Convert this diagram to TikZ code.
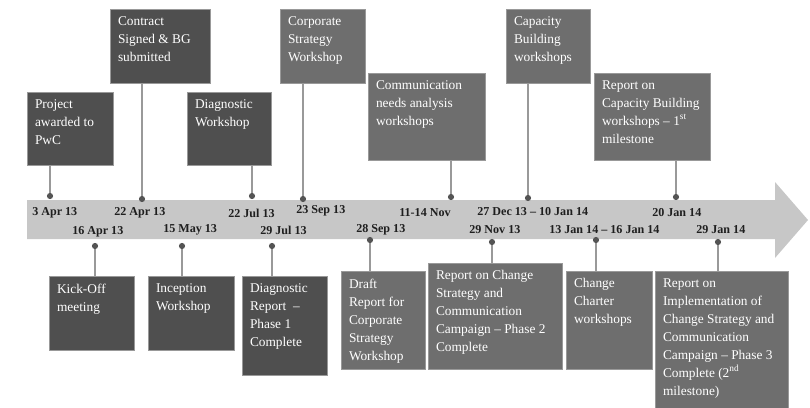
\documentclass[tikz,border=0pt]{standalone}
\usepackage{fontspec}
\setmainfont{Liberation Serif}
\usetikzlibrary{calc,positioning,fit}

\tikzset{
	darkbox/.style={fill=black!69,draw=black!40,line width=0.4pt,inner sep=0pt},
	lightbox/.style={fill=black!57,draw=black!40,line width=0.4pt,inner sep=0pt},
	boxtext/.style={text=white,align=left,anchor=north west,inner xsep=0.2cm,inner ysep=0.19cm,font=\fontsize{9.5}{12.8}\selectfont},
	datelbl/.style={anchor=west,inner sep=0pt,text=black!88,font=\fontsize{8.6}{10}\selectfont\bfseries},
	stemline/.style={draw=black!40,line width=1.3pt},
}

\begin{document}
\begin{tikzpicture}[x=0.025cm,y=-0.025cm]
	\useasboundingbox (0,0) rectangle (810,408);

	\coordinate (d1) at (50,196);
	\coordinate (d2) at (142,199);
	\coordinate (d3) at (252,196);
	\coordinate (d4) at (303,199);
	\coordinate (d5) at (451,197);
	\coordinate (d6) at (528,198);
	\coordinate (d7) at (676,197);
	\coordinate (e1) at (95,246);
	\coordinate (e2) at (182,246);
	\coordinate (e3) at (272,246);
	\coordinate (e4) at (370,240);
	\coordinate (e5) at (492,242);
	\coordinate (e6) at (596,240);
	\coordinate (e7) at (718,242);

	\fill [black!22] (27,200) -- (775,200) -- (775,182) -- (808,220) -- (775,258) -- (775,239) -- (27,239) -- cycle;

	\node (T1) [darkbox,fit={(27,92) (113,165)}] {};
	\node (T2) [darkbox,fit={(110,9) (210,83)}] {};
	\node (T3) [darkbox,fit={(187,92) (271,165)}] {};
	\node (T4) [lightbox,fit={(280,9) (365,83)}] {};
	\node (T5) [lightbox,fit={(368,73) (485,160)}] {};
	\node (T6) [lightbox,fit={(506,9) (590,83)}] {};
	\node (T7) [lightbox,fit={(594,73) (710,160)}] {};
	\node (B1) [darkbox,fit={(49,276) (134,350)}] {};
	\node (B2) [darkbox,fit={(148,276) (234,350)}] {};
	\node (B3) [darkbox,fit={(242,276) (327,375)}] {};
	\node (B4) [lightbox,fit={(341,271) (425,369)}] {};
	\node (B5) [lightbox,fit={(428,263) (562,369)}] {};
	\node (B6) [lightbox,fit={(566,271) (652,369)}] {};
	\node (B7) [lightbox,fit={(655,271) (788,408)}] {};

	\node (T1t) [boxtext] at (T1.north west) {Project\\awarded to\\PwC};
	\node (T2t) [boxtext] at (T2.north west) {Contract\\Signed \& BG\\submitted};
	\node (T3t) [boxtext] at (T3.north west) {Diagnostic\\Workshop};
	\node (T4t) [boxtext] at (T4.north west) {Corporate\\Strategy\\Workshop};
	\node (T5t) [boxtext] at (T5.north west) {Communication\\needs analysis\\workshops};
	\node (T6t) [boxtext] at (T6.north west) {Capacity\\Building\\workshops};
	\node (T7t) [boxtext] at (T7.north west) {Report on\\Capacity Building\\workshops -- 1\textsuperscript{st}\\milestone};
	\node (B1t) [boxtext] at (B1.north west) {Kick-Off\\meeting};
	\node (B2t) [boxtext] at (B2.north west) {Inception\\Workshop};
	\node (B3t) [boxtext] at (B3.north west) {Diagnostic\\Report~ --\\Phase 1\\Complete};
	\node (B4t) [boxtext] at (B4.north west) {Draft\\Report for\\Corporate\\Strategy\\Workshop};
	\node (B5t) [boxtext] at (B5.north west) {Report on Change\\Strategy and\\Communication\\Campaign -- Phase 2\\Complete};
	\node (B6t) [boxtext] at (B6.north west) {Change\\Charter\\workshops};
	\node (B7t) [boxtext] at (B7.north west) {Report on\\Implementation of\\Change Strategy and\\Communication\\Campaign -- Phase 3\\Complete (2\textsuperscript{nd}\\milestone)};

	\foreach \i in {1,...,7} {
		\draw [stemline] (d\i) -- (d\i |- T\i.south);
		\draw [stemline] (e\i) -- (e\i |- B\i.north);
		\fill [black!67] (d\i) circle (2.2pt);
		\fill [black!67] (e\i) circle (2.2pt);
	}

	\node (a1) [datelbl] at (32,213) {3 Apr 13};
	\node (a2) [datelbl] at (114,213) {22 Apr 13};
	\node (a3) [datelbl] at (228,213) {22 Jul 13};
	\node (a4) [datelbl] at (296,211) {23 Sep 13};
	\node (a5) [datelbl] at (399,213) {11-14 Nov};
	\node (a6) [datelbl] at (477,212) {27 Dec 13 -- 10 Jan 14};
	\node (a7) [datelbl] at (652,213) {20 Jan 14};
	\node (b1) [datelbl] at (72,232) {16 Apr 13};
	\node (b2) [datelbl] at (163,230) {15 May 13};
	\node (b3) [datelbl] at (260,230) {29 Jul 13};
	\node (b4) [datelbl] at (356,230) {28 Sep 13};
	\node (b5) [datelbl] at (469,230) {29 Nov 13};
	\node (b6) [datelbl] at (549,230) {13 Jan 14 -- 16 Jan 14};
	\node (b7) [datelbl] at (696,230) {29 Jan 14};

\end{tikzpicture}
\end{document}
